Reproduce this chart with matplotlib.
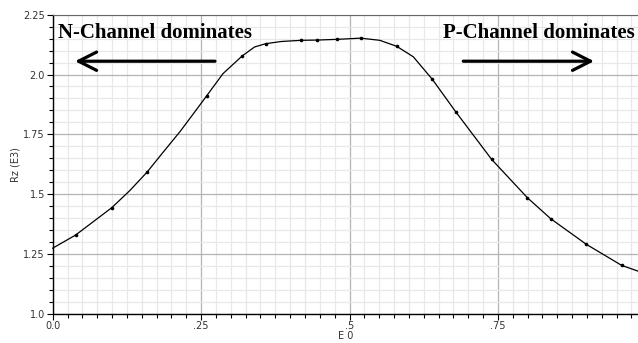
import numpy as np
import matplotlib.pyplot as plt
from matplotlib.ticker import MultipleLocator

# Rz (E3) against E 0 -- traced curve points
curve_x = [0.0, 0.0387, 0.0994, 0.13, 0.159, 0.185, 0.2147, 0.24, 0.2594, 0.287,
           0.3194, 0.34, 0.359, 0.385, 0.419, 0.445, 0.479, 0.519, 0.551, 0.5795,
           0.6075, 0.6395, 0.679, 0.7395, 0.7996, 0.839, 0.899, 0.9585, 0.986]
curve_y = [1.274, 1.329, 1.443, 1.515, 1.592, 1.672, 1.762, 1.846, 1.911, 2.004,
           2.078, 2.115, 2.129, 2.138, 2.143, 2.144, 2.147, 2.152, 2.143, 2.118,
           2.074, 1.980, 1.844, 1.645, 1.485, 1.397, 1.290, 1.202, 1.178]

# sample points drawn as dots on the curve
marker_x = [0.0387, 0.0994, 0.159, 0.2594, 0.3194, 0.359, 0.419, 0.445, 0.479,
            0.519, 0.5795, 0.6395, 0.679, 0.7395, 0.7996, 0.839, 0.899, 0.9585]
marker_y = [1.329, 1.443, 1.592, 1.911, 2.078, 2.129, 2.143, 2.144, 2.147,
            2.152, 2.118, 1.980, 1.844, 1.645, 1.485, 1.397, 1.290, 1.202]

y_ticks = [1.0, 1.25, 1.5, 1.75, 2.0, 2.25]
y_tick_labels = ["1.0", "1.25", "1.5", "1.75", "2.0", "2.25"]
x_ticks = [0.0, 0.25, 0.5, 0.75]
x_tick_labels = ["0.0", ".25", ".5", ".75"]

fig = plt.figure(figsize=(6.38, 3.43), dpi=100)
ax = fig.add_axes([0.0826, 0.0854, 0.9174, 0.8717])

ax.set_xlim(0, 0.986)
ax.set_ylim(1.0, 2.25)

# grid: light minor lines, darker major lines
ax.xaxis.set_minor_locator(MultipleLocator(0.025))
ax.yaxis.set_minor_locator(MultipleLocator(0.05))
ax.set_xticks(x_ticks)
ax.set_xticklabels(x_tick_labels)
ax.set_yticks(y_ticks)
ax.set_yticklabels(y_tick_labels)
ax.grid(which="minor", color="#e8e8e8", lw=0.9)
ax.grid(which="major", color="#b4b4b4", lw=0.9)
ax.set_axisbelow(True)

ax.tick_params(which="major", length=4, width=0.8, labelsize=7, labelcolor="#333333", pad=1.5)
ax.tick_params(which="minor", length=3, width=0.8)

ax.spines["right"].set_visible(False)
ax.spines["top"].set_color("#666666")
ax.spines["left"].set_linewidth(1.0)
ax.spines["bottom"].set_linewidth(1.0)

ax.plot(curve_x, curve_y, color="black", lw=0.9, clip_on=False, zorder=3)
ax.plot(marker_x, marker_y, "o", color="black", markersize=1.6, zorder=4)

ax.set_ylabel("Rz (E3)", fontsize=7, color="#333333", labelpad=2)
ax.set_xlabel("E 0", fontsize=7, color="#333333", labelpad=0)

serif = {"family": "Liberation Serif", "weight": "bold", "size": 15}
ax.text(0.009, 2.152, "N-Channel dominates", fontdict=serif, va="baseline", ha="left")
ax.text(0.6575, 2.152, "P-Channel dominates", fontdict=serif, va="baseline", ha="left")

arrow = dict(arrowstyle="->,head_length=0.65,head_width=0.33", lw=2.3,
             color="black", mutation_scale=20, shrinkA=0, shrinkB=0)
ax.annotate("", xy=(0.0376, 2.0556), xytext=(0.2734, 2.0556), arrowprops=arrow)
ax.annotate("", xy=(0.912, 2.0556), xytext=(0.6917, 2.0556), arrowprops=arrow)

fig.savefig("out.png", dpi=100)
